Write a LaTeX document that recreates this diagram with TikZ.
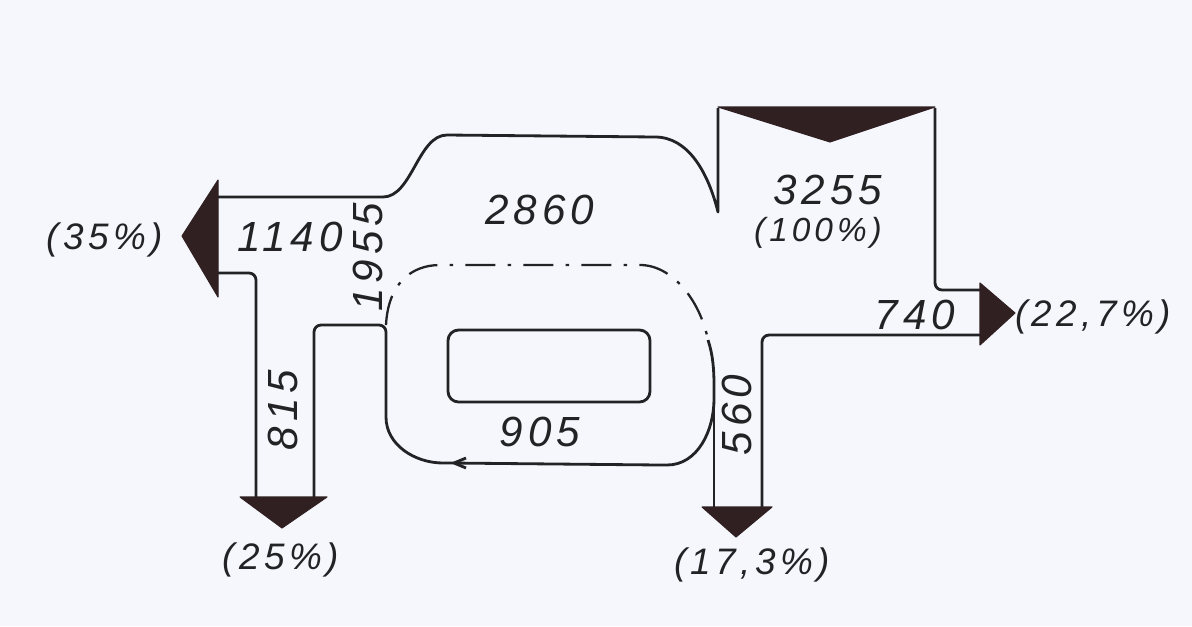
\documentclass[tikz,border=0pt]{standalone}
\usepackage{fontspec}
\setmainfont{Liberation Sans}
\newfontfamily\hand[LetterSpace=12]{Liberation Sans}
\definecolor{paper}{RGB}{245,247,252}
\definecolor{ink}{RGB}{35,35,38}
\definecolor{headfill}{RGB}{48,32,34}

\begin{document}
\begin{tikzpicture}[x=0.02cm,y=-0.02cm,
    wall/.style={draw=ink,line width=1.6pt,line join=round,rounded corners=4pt},
    loopline/.style={draw=ink,line width=1.3pt,dash pattern=on 17pt off 7pt on 2pt off 7pt},
    head/.style={fill=headfill,draw=headfill,line width=0.6pt,line join=round},
    num/.style={font=\hand\itshape\fontsize{24}{28}\selectfont,text=ink,inner sep=0pt},
    pct/.style={font=\hand\itshape\fontsize{21}{25}\selectfont,text=ink,inner sep=0pt}]

\fill[paper] (0,0) rectangle (1192,626);

% Input stream and upper band
\draw[wall,sharp corners] (218,197) -- (383,197) .. controls (412,197) and (418,135) .. (447,135)
    -- (655,137) .. controls (688,137) and (708,172) .. (718,212) -- (718,108);
\draw[wall] (935,108) |- (980,290);
\fill[head] (718,107) -- (935,107) -- (830,142) -- cycle;

% Recirculation loop
\draw[wall] (314,497) -- (314,325) -- (386,325) -- (386,410)
    .. controls (386,445) and (415,463) .. (450,463) -- (660,465)
    .. controls (698,465) and (714,430) .. (714,392)
    .. controls (714,370) and (713,355) .. (708,340);
\draw[loopline] (386,325) .. controls (388,285) and (410,265) .. (440,265) -- (640,265)
    .. controls (672,265) and (700,300) .. (708,340);
\draw[wall,sharp corners] (466,458) -- (454,463) -- (466,468);
\draw[wall,rounded corners=6pt] (448,330) rectangle (650,402);

% Outgoing streams
\draw[wall] (218,273) -| (256,497);
\draw[wall] (714,385) -- (714,507);
\draw[wall] (762,507) |- (980,335);

% Arrow heads
\fill[head] (218,180) -- (218,297) -- (182,236) -- cycle;
\fill[head] (240,497) -- (327,497) -- (282,528) -- cycle;
\fill[head] (702,507) -- (772,507) -- (736,537) -- cycle;
\fill[head] (980,283) -- (980,345) -- (1015,313) -- cycle;

% Flow values
\node[num] (feed) at (828,190) {3255};
\node[pct,font=\hand\itshape\fontsize{19}{22}\selectfont] (feedpct) at (818,233) {(100\%)};
\node[num] (band) at (540,210) {2860};
\node[num] (left) at (290,237) {1140};
\node[num,rotate=90] (mix) at (368,257) {1955};
\node[num,rotate=90] (down) at (283,410) {815};
\node[num] (ring) at (540,432) {905};
\node[num,rotate=90] (drop) at (737,415) {560};
\node[num] (side) at (915,315) {740};

% Shares
\node[pct] (leftpct) at (105,240) {(35\%)};
\node[pct] (downpct) at (281,560) {(25\%)};
\node[pct] (droppct) at (752,565) {(17,3\%)};
\node[pct] (sidepct) at (1093,317) {(22,7\%)};

\end{tikzpicture}
\end{document}
